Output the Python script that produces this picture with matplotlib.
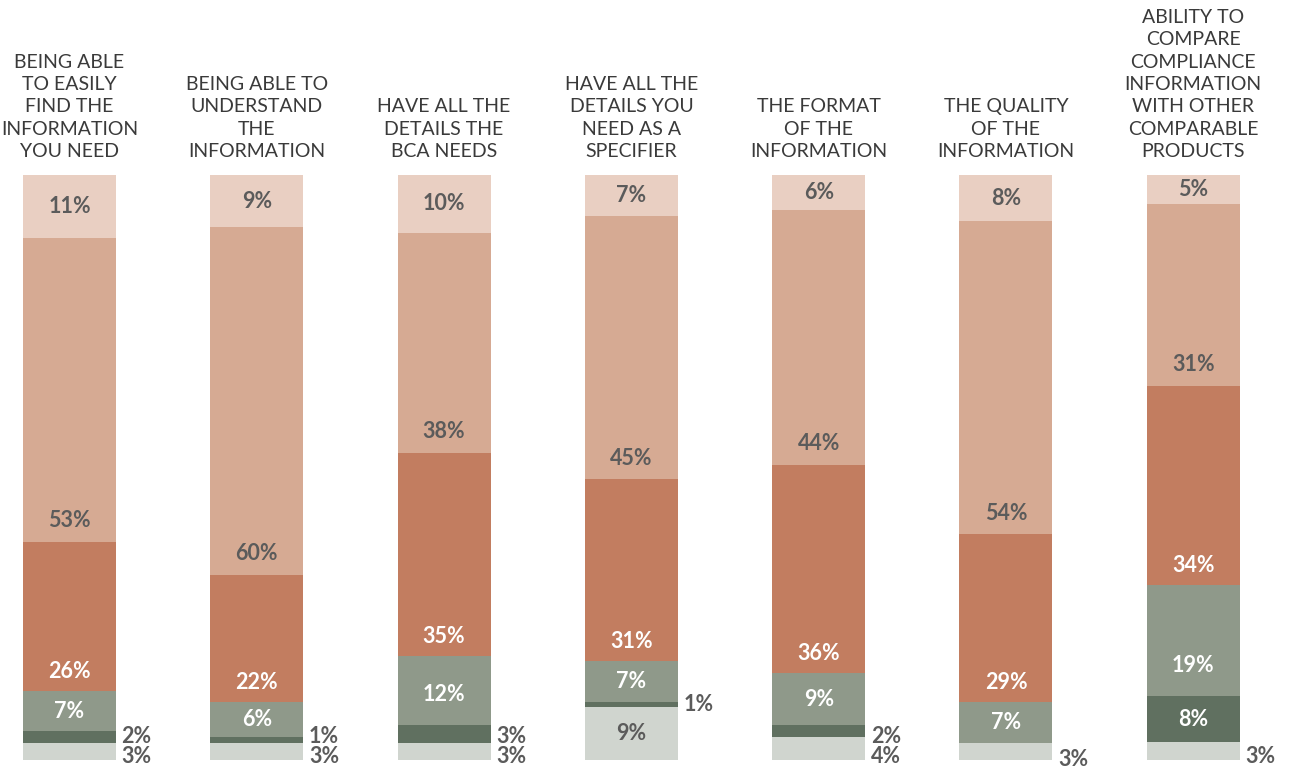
import matplotlib
matplotlib.use("Agg")
import matplotlib.pyplot as plt
import numpy as np

categories = [
    "BEING ABLE\nTO EASILY\nFIND THE\nINFORMATION\nYOU NEED",
    "BEING ABLE TO\nUNDERSTAND\nTHE\nINFORMATION",
    "HAVE ALL THE\nDETAILS THE\nBCA NEEDS",
    "HAVE ALL THE\nDETAILS YOU\nNEED AS A\nSPECIFIER",
    "THE FORMAT\nOF THE\nINFORMATION",
    "THE QUALITY\nOF THE\nINFORMATION",
    "ABILITY TO\nCOMPARE\nCOMPLIANCE\nINFORMATION\nWITH OTHER\nCOMPARABLE\nPRODUCTS",
]

# segments from bottom to top
seg_lightgrey = [3, 3, 3, 9, 4, 3, 3]
seg_darkgreen = [2, 1, 3, 1, 2, 0, 8]
seg_greygreen = [7, 6, 12, 7, 9, 7, 19]
seg_terracotta = [26, 22, 35, 31, 36, 29, 34]
seg_tan = [53, 60, 38, 45, 44, 54, 31]
seg_top = [11, 9, 10, 7, 6, 8, 5]

series = [seg_lightgrey, seg_darkgreen, seg_greygreen, seg_terracotta, seg_tan, seg_top]
colors = ["#D0D5CF", "#607060", "#8F998A", "#C27D60", "#D6AA93", "#E9CFC2"]
text_colors = ["#5B5B5B", "white", "white", "white", "#5B5B5B", "#5B5B5B"]
# max offset (in % of bar) of label above segment bottom; None = centered
caps = [None, None, 5.2, 3.3, 3.6, None]

fig = plt.figure(figsize=(12.92, 7.72), dpi=100)
ax = fig.add_axes([0, 0, 1, 1])
ax.set_axis_off()

spacing = 187.3
x0 = 69.5
ax.set_xlim(-x0 / spacing, (1292 - x0) / spacing)
pxu = 585 / 100.0
ax.set_ylim(-12 / pxu, 100 + 175 / pxu)

data = np.array(series, dtype=float)  # shape (6, 7)
totals = data.sum(axis=0)
norm = data / totals * 100
x = np.arange(len(categories))
width = 93 / spacing

label_font = "Lato"
bottoms = np.zeros(len(categories))
for si in range(len(series)):
    ax.bar(x, norm[si], width, bottom=bottoms, color=colors[si], linewidth=0)
    bottoms += norm[si]

bottoms = np.zeros(len(categories))
for si in range(len(series)):
    for i in range(len(categories)):
        v = data[si, i]
        h = norm[si, i]
        b = bottoms[i]
        if v == 0:
            continue
        lbl = f"{int(v)}%"
        if h < 4.5:
            lg_outside = norm[0, i] < 4.5
            if si == 0:
                yy = 0.6 if norm[1, i] > 0 else 0.0
            else:
                yy = 4.0 if lg_outside else b + h / 2
            ax.text(x[i] + width / 2 + 0.03, yy, lbl, ha="left", va="center",
                    fontsize=15.5, color="#5B5B5B", fontweight="bold", family=label_font)
        else:
            if caps[si] is None:
                yy = b + h / 2
            else:
                yy = b + min(h / 2, caps[si])
            ax.text(x[i], yy, lbl, ha="center", va="center", fontsize=15.5,
                    color=text_colors[si], fontweight="bold", family=label_font)
    bottoms += norm[si]

for i, c in enumerate(categories):
    ax.text(x[i], 100 + 15 / pxu, c, ha="center", va="bottom", fontsize=14,
            color="#3A3A3A", linespacing=1.38, family=label_font, fontweight="normal")

fig.savefig("out.png", dpi=100)
